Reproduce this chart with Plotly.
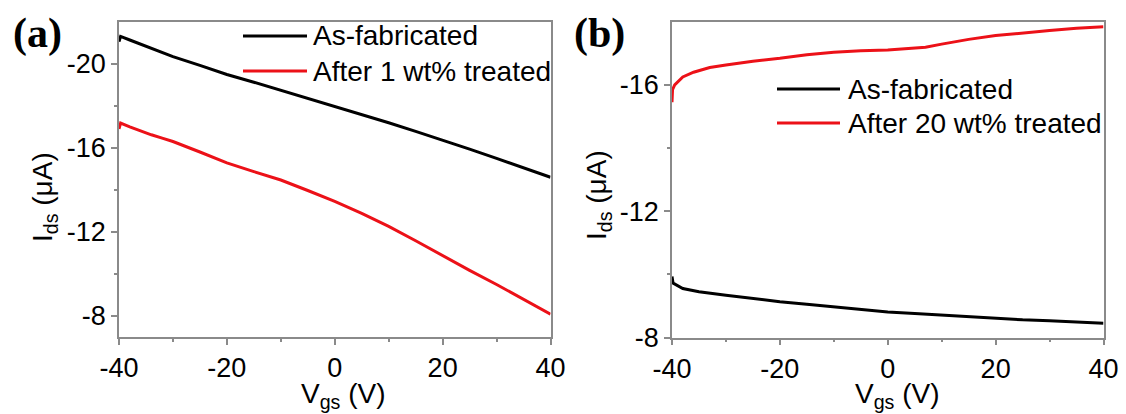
import plotly.graph_objects as go

W, H = 1126, 414

# ---------------- data ----------------
vgs_a = [-40, -39.7, -38, -36, -34, -32, -30, -25, -20, -15, -10, -5, 0, 5, 10, 15, 20, 25, 30, 35, 40]
ids_a_asfab = [-21.05, -21.3, -21.13, -20.93, -20.72, -20.52, -20.34, -19.92, -19.49, -19.12,
               -18.74, -18.36, -17.98, -17.58, -17.19, -16.78, -16.37, -15.94, -15.5, -15.05, -14.6]
ids_a_1wt = [-16.9, -17.18, -17.0, -16.8, -16.62, -16.46, -16.3, -15.8, -15.28, -14.87,
             -14.47, -13.97, -13.45, -12.88, -12.26, -11.58, -10.86, -10.17, -9.5, -8.79, -8.08]

vgs_b_red = [-40, -39.9, -39.5, -38, -36, -33, -30, -25, -20, -15, -10, -5, 0, 5, 7, 10, 15, 20, 25, 30, 35, 40]
ids_b_20wt = [-15.45, -15.85, -16.0, -16.25, -16.4, -16.55, -16.63, -16.75, -16.84, -16.95, -17.03,
              -17.08, -17.1, -17.15, -17.19, -17.29, -17.44, -17.56, -17.65, -17.72, -17.79, -17.84]
vgs_b_blk = [-40, -39.8, -38, -35, -30, -25, -20, -15, -10, -5, 0, 5, 10, 15, 20, 25, 30, 35, 40]
ids_b_asfab = [-9.93, -9.72, -9.55, -9.45, -9.34, -9.23, -9.13, -9.05, -8.97, -8.89, -8.81,
               -8.76, -8.71, -8.65, -8.6, -8.56, -8.53, -8.49, -8.45]

name_asfab = "As-fabricated"
name_a = "After 1 wt% treated"
name_b = "After 20 wt% treated"
x_ticks = [-40, -20, 0, 20, 40]
x_ticktext = ["-40", "-20", "0", "20", "40"]
y_ticks_a = [-20, -16, -12, -8]
y_ticktext_a = ["-20", "-16", "-12", "-8"]
y_ticks_b = [-16, -12, -8]
y_ticktext_b = ["-16", "-12", "-8"]
panel_labels = ["(a)", "(b)"]

# ---------------- layout helpers ----------------
def px_x(p):
    return p / W

def px_y(p):
    return 1 - p / H

BLACK = "#000000"
RED = "#ec1118"
AXC = "#8a8a8a"
FONT = "Liberation Sans, Arial, sans-serif"

fig = go.Figure()
fig.add_trace(go.Scatter(x=vgs_a, y=ids_a_asfab, mode="lines", name=name_asfab,
                         line=dict(color=BLACK, width=3), xaxis="x", yaxis="y", showlegend=False))
fig.add_trace(go.Scatter(x=vgs_a, y=ids_a_1wt, mode="lines", name=name_a,
                         line=dict(color=RED, width=3), xaxis="x", yaxis="y", showlegend=False))
fig.add_trace(go.Scatter(x=vgs_b_red, y=ids_b_20wt, mode="lines", name=name_b,
                         line=dict(color=RED, width=3), xaxis="x2", yaxis="y2", showlegend=False))
fig.add_trace(go.Scatter(x=vgs_b_blk, y=ids_b_asfab, mode="lines", name=name_asfab,
                         line=dict(color=BLACK, width=3), xaxis="x2", yaxis="y2", showlegend=False))

common_x = dict(range=[-40, 40], tickvals=x_ticks, ticktext=x_ticktext, ticks="outside",
                ticklen=6, tickwidth=1.5, automargin=False,
                tickcolor=AXC, showline=True, linecolor=AXC, linewidth=1.5, mirror=True,
                showgrid=False, zeroline=False,
                tickfont=dict(family=FONT, size=27, color="black"),
                minor=dict(tickvals=[-30, -10, 10, 30], ticks="outside", ticklen=3,
                           tickwidth=1.5, tickcolor=AXC))
common_y = dict(ticks="outside", ticklen=6, tickwidth=1.5, tickcolor=AXC, showline=True,
                automargin=False,
                linecolor=AXC, linewidth=1.5, mirror=True, showgrid=False, zeroline=False,
                tickfont=dict(family=FONT, size=27, color="black"))

fig.update_layout(
    template="none",
    width=W, height=H, margin=dict(l=0, r=0, t=0, b=0, pad=0),
    paper_bgcolor="white", plot_bgcolor="white", showlegend=False,
    xaxis=dict(domain=[px_x(119), px_x(550.5)], anchor="y", **common_x),
    yaxis=dict(domain=[px_y(337), px_y(21.7)], anchor="x", range=[-7, -22], tickvals=y_ticks_a,
               ticktext=y_ticktext_a,
               minor=dict(tickvals=[-18, -14, -10], ticks="outside", ticklen=3, tickwidth=1.5,
                          tickcolor=AXC), **common_y),
    xaxis2=dict(domain=[px_x(672), px_x(1103.5)], anchor="y2", **common_x),
    yaxis2=dict(domain=[px_y(337.5), px_y(21.7)], anchor="x2", range=[-8, -18], tickvals=y_ticks_b,
                ticktext=y_ticktext_b,
                minor=dict(tickvals=[-14, -10], ticks="outside", ticklen=3, tickwidth=1.5,
                           tickcolor=AXC), **common_y),
)

# custom legends (line samples + text)
legend_items = [
    (243, 307, 36, 311, BLACK, name_asfab),
    (243, 307, 71, 311, RED, name_a),
    (777, 840, 89, 846, BLACK, name_asfab),
    (777, 840, 123, 846, RED, name_b),
]
for x0, x1, yy, xt, col, txt in legend_items:
    fig.add_shape(type="line", xref="paper", yref="paper", x0=px_x(x0), x1=px_x(x1),
                  y0=px_y(yy), y1=px_y(yy), line=dict(color=col, width=3))
    fig.add_annotation(xref="paper", yref="paper", x=px_x(xt), y=px_y(yy), xanchor="left",
                       yanchor="middle", text=txt, showarrow=False,
                       font=dict(family=FONT, size=28, color="black"))

# axis titles
ytitle = "I<sub>ds</sub> (μA)"
xtitle = "V<sub>gs</sub> (V)"
for xc, yc in [(44, 197), (598, 195)]:
    fig.add_annotation(xref="paper", yref="paper", x=px_x(xc), y=px_y(yc), xanchor="center",
                       yanchor="middle", text=ytitle, textangle=-90, showarrow=False,
                       font=dict(family=FONT, size=28, color="black"))
for xc in [343, 897]:
    fig.add_annotation(xref="paper", yref="paper", x=px_x(xc), y=px_y(395), xanchor="center",
                       yanchor="middle", text=xtitle, showarrow=False,
                       font=dict(family=FONT, size=28, color="black"))

# panel labels
for lbl, xl in zip(panel_labels, [11, 572]):
    fig.add_annotation(xref="paper", yref="paper", x=px_x(xl), y=px_y(33), xanchor="left",
                       yanchor="middle", text="<b>" + lbl + "</b>", showarrow=False,
                       font=dict(family="Liberation Serif, Times New Roman, serif", size=42,
                                 color="black"))

fig.write_html("out.html")
